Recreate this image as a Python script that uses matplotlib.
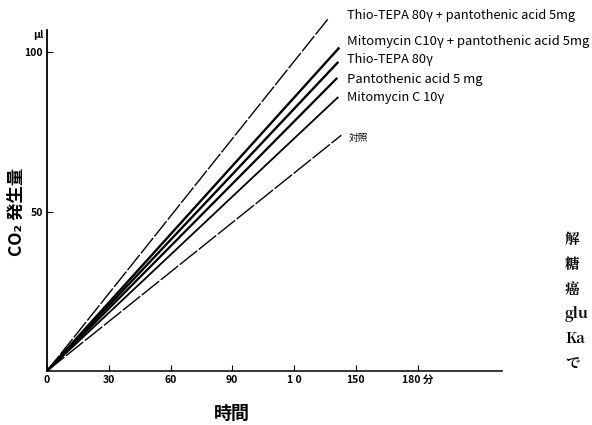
import matplotlib
matplotlib.use("Agg")
import matplotlib.pyplot as plt

plt.rcParams['font.family'] = ['Noto Sans CJK JP', 'DejaVu Sans']

# Data: each line runs from the origin (0 min, 0 μl) to its end point
series_names = [
    "Thio-TEPA 80γ + pantothenic acid 5mg",
    "Mitomycin C10γ + pantothenic acid 5mg",
    "Thio-TEPA 80γ",
    "Pantothenic acid 5 mg",
    "Mitomycin C 10γ",
    "対照",
]
start_time = [0, 0, 0, 0, 0, 0]
start_co2 = [0, 0, 0, 0, 0, 0]
end_time = [136.5, 142, 141.5, 141, 141.5, 143]
end_co2 = [110.5, 101.5, 97, 92, 86, 74]

x_ticks = [0, 30, 60, 90, 120, 150, 180]
x_ticklabels = ["0", "30", "60", "90", "1 0", "150", "180 分"]
y_ticks = [50, 100]
y_ticklabels = ["50", "100"]

W, H = 592, 425
fig = plt.figure(figsize=(W / 100, H / 100), dpi=100)
ax = fig.add_axes([47 / W, 54 / H, (502 - 47) / W, (371 - 30) / H])
ax.set_xlim(0, 221)
ax.set_ylim(0, 107)

styles = [
    dict(lw=1.0, ls=(0, (14, 1.5))),
    dict(lw=1.7, ls='-'),
    dict(lw=1.7, ls='-'),
    dict(lw=1.6, ls='-'),
    dict(lw=1.3, ls='-'),
    dict(lw=1.0, ls=(0, (16, 1.5))),
]
for i, name in enumerate(series_names):
    ax.plot([start_time[i], end_time[i]], [start_co2[i], end_co2[i]],
            color='black', clip_on=False, solid_capstyle='butt', **styles[i])

# line labels (pixel positions converted to figure coords)
label_px = [(347, 16), (347, 42), (347, 60), (347, 79), (347, 98), (349, 138)]
label_size = [9.2, 9.4, 9.2, 9.4, 9.2, 7]
for name, (px, py), fs in zip(series_names, label_px, label_size):
    fig.text(px / W, 1 - py / H, name, fontsize=fs,
             family=['Noto Sans CJK JP', 'DejaVu Sans'],
             va='center', ha='left', color='black')

for s in ['top', 'right']:
    ax.spines[s].set_visible(False)
ax.spines['left'].set_linewidth(1.3)
ax.spines['bottom'].set_linewidth(1.1)

ax.set_xticks(x_ticks)
ax.set_xticklabels(x_ticklabels, fontsize=7.5, fontweight='bold')
ax.set_yticks(y_ticks)
ax.set_yticklabels(y_ticklabels, fontsize=7.5, fontweight='bold')
ax.tick_params(axis='both', direction='in', length=4, width=0.8, pad=3)

fig.text(38 / W, 1 - 35 / H, "μl", fontsize=7.5, style='italic',
         fontweight='bold', ha='center', va='center')
fig.text(17 / W, 1 - 212 / H, "CO₂ 発生量", rotation=90, fontsize=12.5,
         fontweight='bold', ha='center', va='center')
fig.text(232 / W, 1 - 413 / H, "時間", fontsize=13, fontweight='bold',
         ha='center', va='center')

# fragments of neighbouring page text at right edge
frag = [("解", 240), ("糖", 265), ("癌", 290), ("glu", 314), ("Ka", 339), ("で", 364)]
for t, py in frag:
    fig.text(565 / W, 1 - py / H, t, fontsize=10.5, fontweight='bold',
             family=['Noto Serif CJK JP', 'Noto Sans CJK JP', 'DejaVu Serif'],
             ha='left', va='center')

fig.savefig("out.png", dpi=100)
